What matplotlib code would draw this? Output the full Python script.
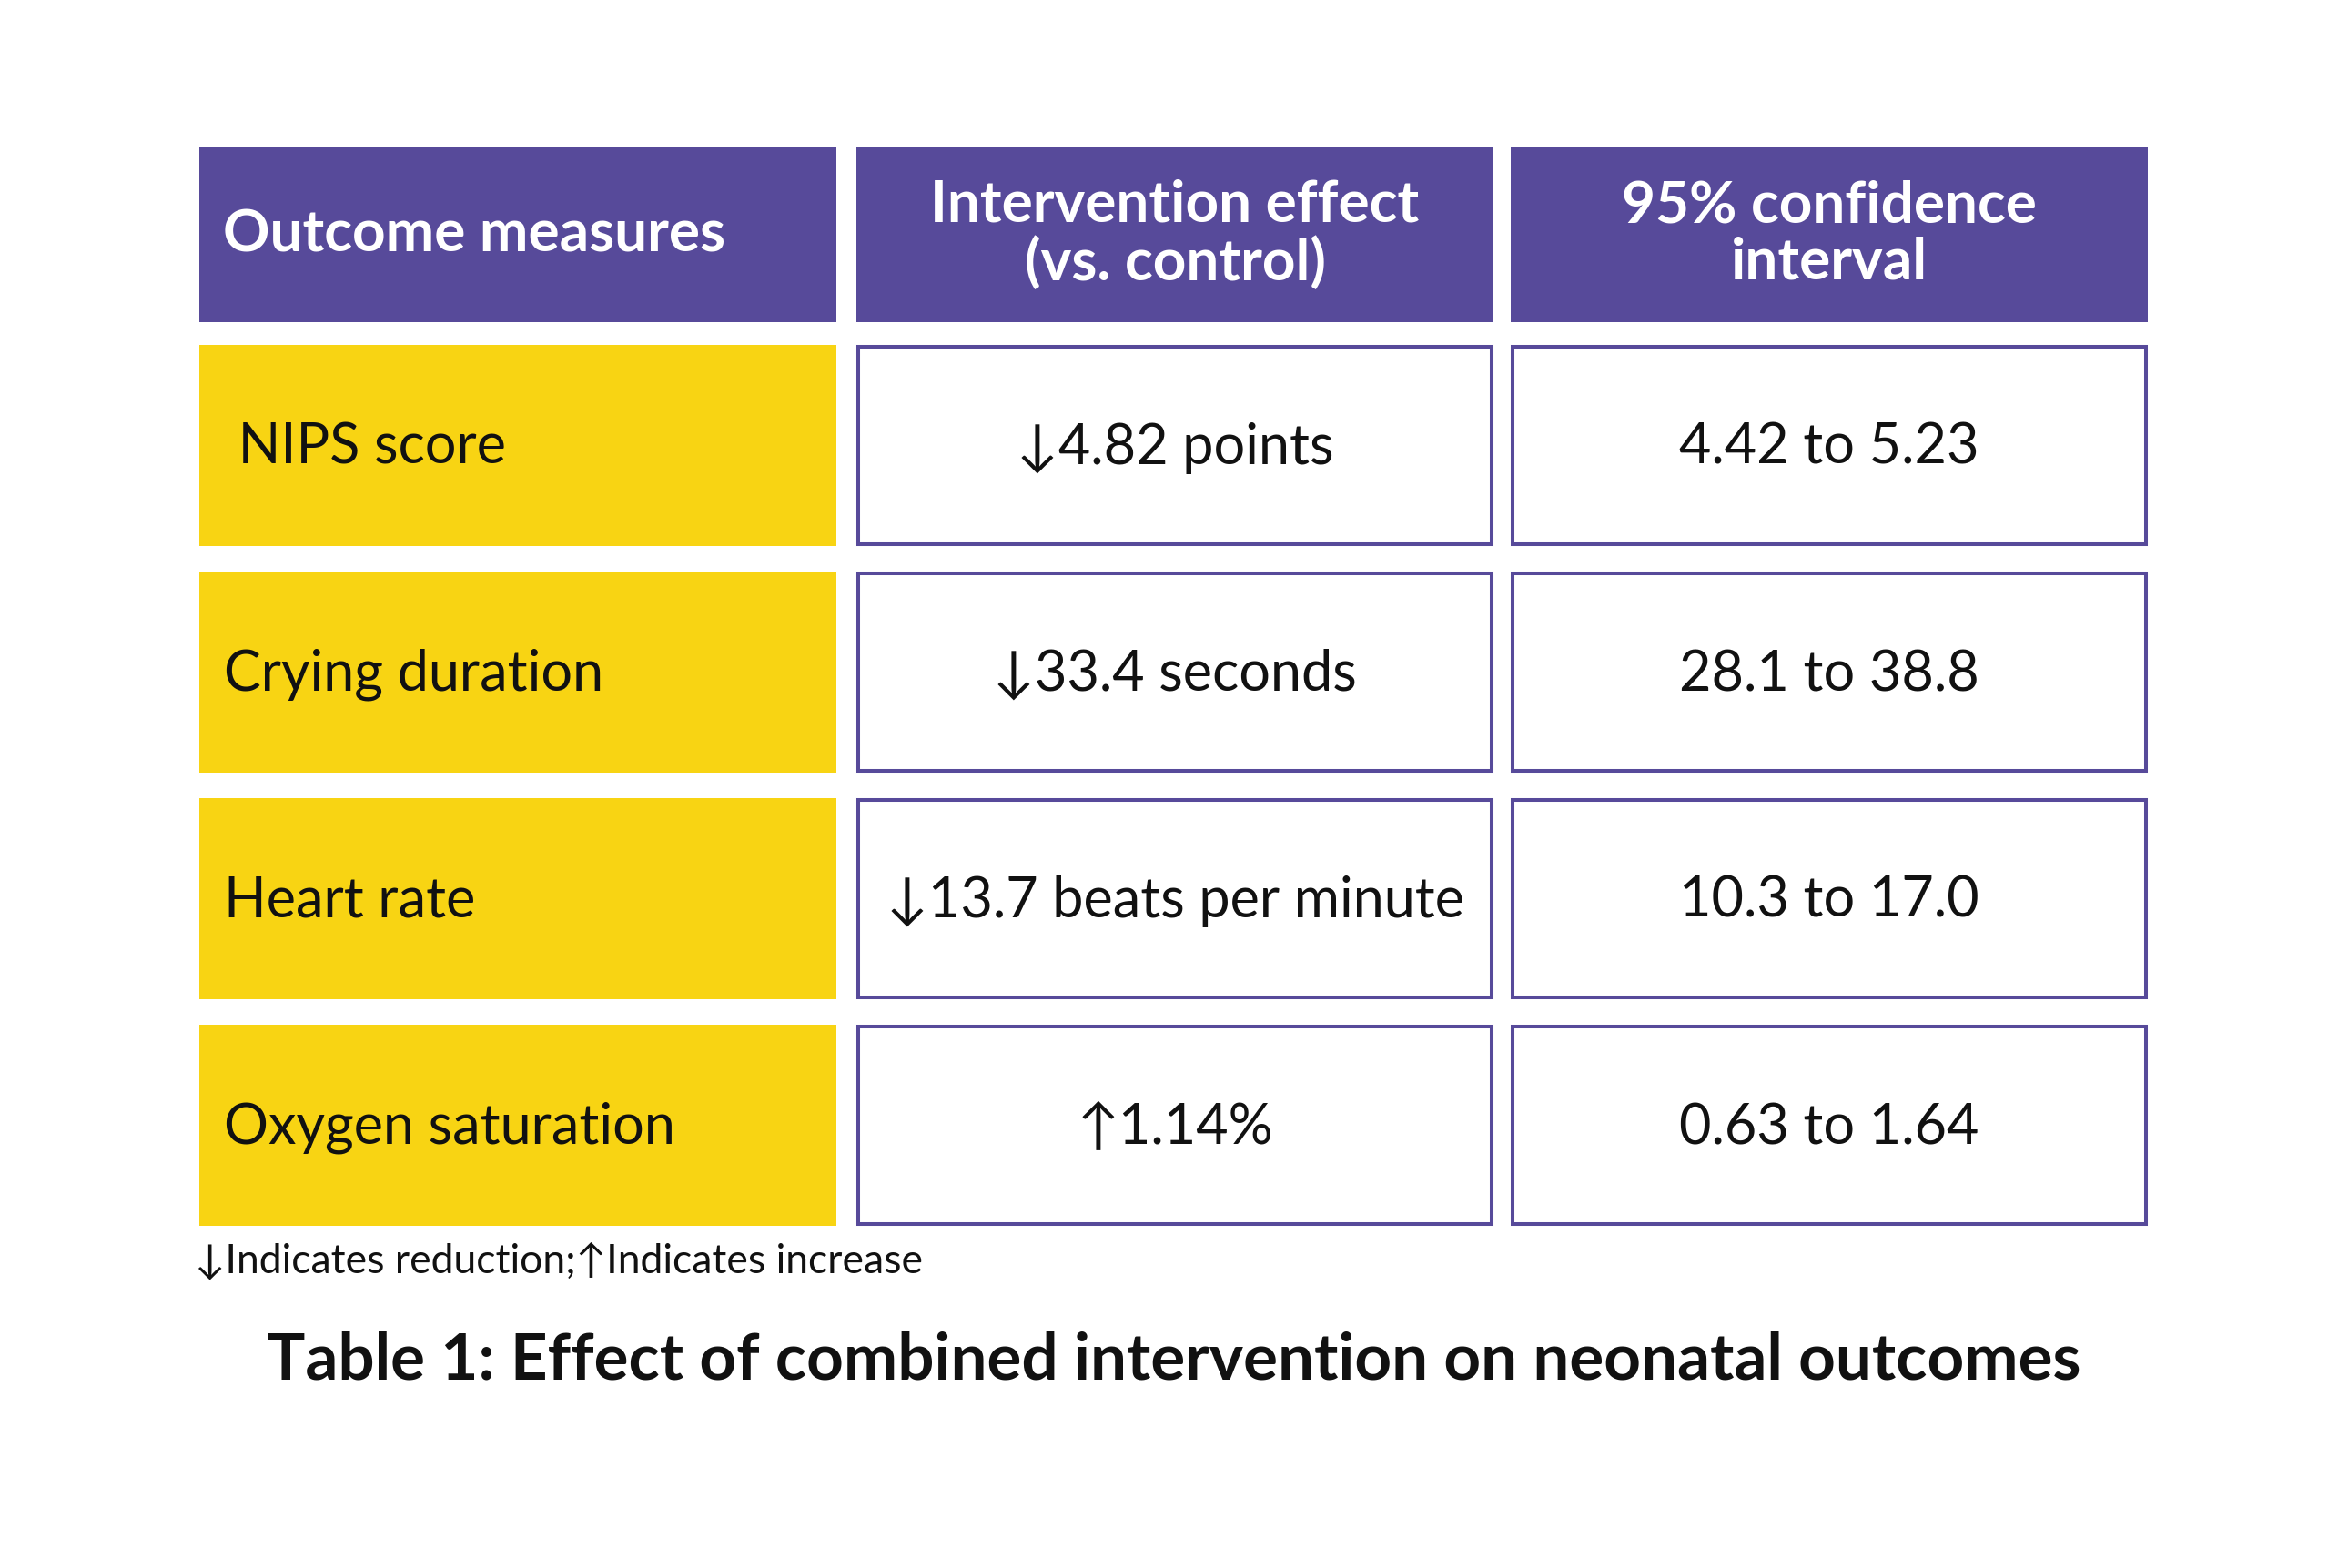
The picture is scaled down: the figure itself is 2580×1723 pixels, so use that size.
import matplotlib.pyplot as plt
from matplotlib.patches import Rectangle

# table content
headers = ["Outcome measures", "Intervention effect\n(vs. control)", "95% confidence\ninterval"]
outcomes = [" NIPS score", "Crying duration", "Heart rate", "Oxygen saturation"]
directions = ["down", "down", "down", "up"]
amounts = ["4.82", "33.4", "13.7", "1.14"]
units = [" points", " seconds", " beats per minute", "%"]
ci_low = ["4.42", "28.1", "10.3", "0.63"]
ci_high = ["5.23", "38.8", "17.0", "1.64"]
footnote = "\u2193Indicates reduction;\u2191Indicates increase"
title = "Table 1: Effect of combined intervention on neonatal outcomes"

PURPLE = "#574a9a"
YELLOW = "#f8d413"
FONT = ["Lato", "DejaVu Sans"]
ARROWS = {"down": "\u2193", "up": "\u2191"}

W, H = 2580, 1723
fig = plt.figure(figsize=(W / 100, H / 100), dpi=100)
ax = fig.add_axes([0, 0, 1, 1])
ax.set_xlim(0, W)
ax.set_ylim(H, 0)
ax.axis("off")

col_x = [219, 941, 1660]
col_w = 700
head_y, head_h = 162, 192
row_y0, row_h, row_pitch = 379, 221, 249

for x, label in zip(col_x, headers):
    ax.add_patch(Rectangle((x, head_y), col_w, head_h, facecolor=PURPLE, edgecolor="none"))
    if x == col_x[0]:
        ax.text(x + 26, head_y + head_h / 2, label, ha="left", va="center", color="white",
                fontsize=46, fontweight="bold", family=FONT)
    else:
        ax.text(x + col_w / 2, head_y + head_h / 2 - 1, label, ha="center", va="center", color="white",
                fontsize=46, fontweight="bold", family=FONT, linespacing=1.1, multialignment="center")

for i, name in enumerate(outcomes):
    y = row_y0 + i * row_pitch
    cy = y + row_h / 2 + 3
    ax.add_patch(Rectangle((col_x[0], y), col_w, row_h, facecolor=YELLOW, edgecolor="none"))
    ax.text(col_x[0] + 27, cy, name, ha="left", va="center", fontsize=44, family=FONT, color="#111111")
    for x in col_x[1:]:
        ax.add_patch(Rectangle((x + 2, y + 2), col_w - 4, row_h - 4, facecolor="white",
                               edgecolor=PURPLE, linewidth=2.9))
    effect = ARROWS[directions[i]] + amounts[i] + units[i]
    ax.text(col_x[1] + col_w / 2, cy, effect, ha="center", va="center", fontsize=44,
            family=FONT, color="#111111")
    ax.text(col_x[2] + col_w / 2, cy, f"{ci_low[i]} to {ci_high[i]}", ha="center", va="center",
            fontsize=44, family=FONT, color="#111111")

ax.text(214, 1398, footnote, ha="left", va="baseline", fontsize=32, family=FONT, color="#111111")
ax.text(1290, 1516, title, ha="center", va="baseline", fontsize=51, fontweight="bold",
        family=FONT, color="#111111")

fig.savefig("out.png", dpi=100, facecolor="white")
plt.close(fig)
